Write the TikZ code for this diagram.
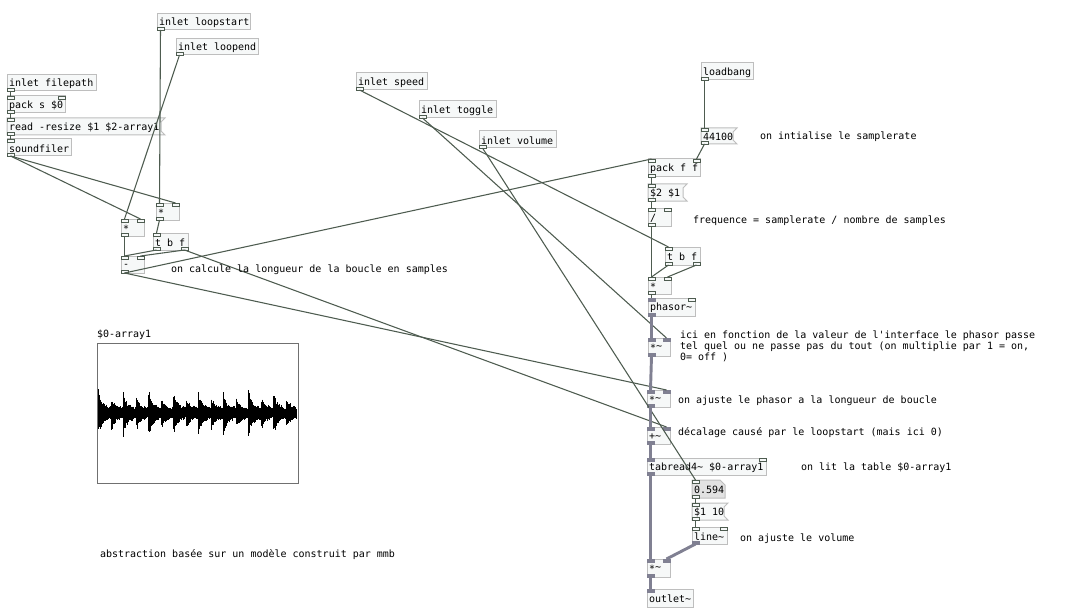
\documentclass[tikz,border=0pt]{standalone}
\usepackage{fontspec}
\newfontfamily\pdmono{DejaVu Sans Mono}
\usetikzlibrary{calc}
\definecolor{boxline}{RGB}{190,190,190}
\definecolor{boxfill}{RGB}{246,248,248}
\definecolor{ctl}{RGB}{78,92,80}
\definecolor{sig}{RGB}{128,128,146}
\definecolor{numfill}{RGB}{226,226,226}
\definecolor{arrline}{RGB}{112,112,112}
\newcommand\tl{\textasciitilde}
\newcommand\pdstar{\raisebox{-1.6pt}{*}}
\tikzset{
 pdbox/.style={draw=boxline, fill=boxfill, line width=0.75pt, inner sep=0pt, outer sep=0pt, anchor=north west},
 pdtxt/.style={inner sep=0pt, outer sep=0pt, anchor=west, font=\pdmono\fontsize{7.5}{8.25}\selectfont, text=black},
 ctab/.style={draw=ctl, fill=boxfill, line width=0.6pt},
 stab/.style={fill=sig, draw=sig, line width=0.3pt},
 cwire/.style={draw=ctl, line width=0.8pt},
 swire/.style={draw=sig, line width=2.2pt},
}
% object box
\newcommand\pdobj[6]{%
  \node[pdbox, minimum width=#4*0.75pt, minimum height=#5*0.75pt] (#1) at (#2,#3) {};
  \node[pdtxt] (#1-t) at ($(#1.west)+(2,1)$) {#6};}
% message box
\newcommand\pdmsg[6]{%
  \node[pdbox, draw=none, fill=none, minimum width=#4*0.75pt, minimum height=#5*0.75pt] (#1) at (#2,#3) {};
  \draw[draw=boxline, fill=boxfill, line width=0.75pt] (#1.north west) -- ++(#4+4,0) -- ++(-4,4) -- ++(0,#5-8) -- ++(4,4) -- (#1.south west) -- cycle;
  \node[pdtxt] (#1-t) at ($(#1.west)+(2,1)$) {#6};}
% number box
\newcommand\pdnum[6]{%
  \node[pdbox, draw=none, fill=none, minimum width=#4*0.75pt, minimum height=#5*0.75pt] (#1) at (#2,#3) {};
  \draw[draw=boxline, fill=numfill, line width=0.75pt] (#1.north west) -- ++(#4-5,0) -- ++(5,5) -- (#1.south east) -- (#1.south west) -- cycle;
  \node[pdtxt] (#1-t) at ($(#1.west)+(2,1)$) {#6};}
% inlets / outlets
\newcommand\iL[2]{\draw[#2] (#1.north west) rectangle ++(7,3); \coordinate (#1-i0) at ($(#1.north west)+(3.5,0)$);}
\newcommand\iR[2]{\draw[#2] ($(#1.north east)+(-7,0)$) rectangle ++(7,3); \coordinate (#1-i1) at ($(#1.north east)+(-3.5,0)$);}
\newcommand\oL[2]{\draw[#2] ($(#1.south west)+(0,-3)$) rectangle ++(7,3); \coordinate (#1-o0) at ($(#1.south west)+(3.5,0)$);}
\newcommand\oR[2]{\draw[#2] ($(#1.south east)+(-7,-3)$) rectangle ++(7,3); \coordinate (#1-o1) at ($(#1.south east)+(-3.5,0)$);}
\begin{document}
\begin{tikzpicture}[x=0.75pt,y=-0.75pt]
\fill[white] (0,0) rectangle (1083,610);
\useasboundingbox (0,0) rectangle (1083,610);

% ---------- left column ----------
\pdobj{inFP}{7}{75}{89}{16}{inlet filepath}
\pdobj{packS}{7}{96}{58}{17}{pack s \$0}
\pdmsg{readM}{7}{118}{154}{17}{read -resize \$1 \$2-array1}
\pdobj{sfil}{7}{139}{64}{17}{soundfiler}
\pdobj{inLS}{157}{14}{93}{16}{inlet loopstart}
\pdobj{inLE}{176}{39}{82}{16}{inlet loopend}
\pdobj{mulR}{156}{203}{23}{17}{\pdstar}
\pdobj{mulL}{121}{219}{23}{17}{\pdstar}
\pdobj{tbfA}{153}{233}{35}{17}{t b f}
\pdobj{sub}{121}{256}{23}{17}{-}

% ---------- middle inlets ----------
\pdobj{inSp}{356}{73}{71}{17}{inlet speed}
\pdobj{inTg}{419}{101}{77}{17}{inlet toggle}
\pdobj{inVl}{479}{131}{77}{17}{inlet volume}

% ---------- right column ----------
\pdobj{lb}{701}{63}{52}{17}{loadbang}
\pdmsg{m44}{701}{128}{32}{16}{44100}
\pdobj{packF}{648}{159}{52}{18}{pack f f}
\pdmsg{swp}{648}{184}{35}{17}{\$2 \$1}
\pdobj{dv}{648}{208}{23}{18}{/}
\pdobj{tbfB}{665}{247}{35}{18}{t b f}
\pdobj{mul}{648}{277}{23}{17}{\pdstar}
\pdobj{phs}{648}{298}{47}{18}{phasor\tl}
\pdobj{ms1}{648}{338}{22}{18}{\pdstar\tl}
\pdobj{ms2}{647}{390}{23}{17}{\pdstar\tl}
\pdobj{add}{647}{427}{23}{17}{+\tl}
\pdobj{tab}{647}{458}{119}{17}{tabread4\tl{} \$0-array1}
\pdnum{num}{692}{480}{33}{18}{0.594}
\pdmsg{m110}{692}{503}{32}{17}{\$1 10}
\pdobj{lin}{692}{527}{35}{17}{line\tl}
\pdobj{ms3}{647}{559}{23}{18}{\pdstar\tl}
\pdobj{outS}{647}{589}{46}{18}{outlet\tl}

% ---------- inlets / outlets ----------
\oL{inFP}{ctab}
\iL{packS}{ctab}\iR{packS}{ctab}\oL{packS}{ctab}
\iL{readM}{ctab}\oL{readM}{ctab}
\iL{sfil}{ctab}\oL{sfil}{ctab}
\oL{inLS}{ctab}\oL{inLE}{ctab}
\iL{mulR}{ctab}\iR{mulR}{ctab}\oL{mulR}{ctab}
\iL{mulL}{ctab}\iR{mulL}{ctab}\oL{mulL}{ctab}
\iL{sub}{ctab}\iR{sub}{ctab}\oL{sub}{ctab}
\iL{tbfA}{ctab}\oL{tbfA}{ctab}\oR{tbfA}{ctab}
\oL{inSp}{ctab}\oL{inTg}{ctab}\oL{inVl}{ctab}\oL{lb}{ctab}
\iL{m44}{ctab}\oL{m44}{ctab}
\iL{packF}{ctab}\iR{packF}{ctab}\oL{packF}{ctab}
\iL{swp}{ctab}\oL{swp}{ctab}
\iL{dv}{ctab}\iR{dv}{ctab}\oL{dv}{ctab}
\iL{tbfB}{ctab}\oL{tbfB}{ctab}\oR{tbfB}{ctab}
\iL{mul}{ctab}\iR{mul}{ctab}\oL{mul}{ctab}
\iL{phs}{stab}\iR{phs}{ctab}\oL{phs}{stab}
\iL{ms1}{stab}\iR{ms1}{stab}\oL{ms1}{stab}
\iL{ms2}{stab}\iR{ms2}{stab}\oL{ms2}{stab}
\iL{add}{stab}\iR{add}{stab}\oL{add}{stab}
\iL{tab}{stab}\iR{tab}{ctab}\oL{tab}{stab}
\iL{num}{ctab}\oL{num}{ctab}
\iL{m110}{ctab}\oL{m110}{ctab}
\iL{lin}{ctab}\iR{lin}{ctab}\oL{lin}{stab}
\iL{ms3}{stab}\iR{ms3}{stab}\oL{ms3}{stab}
\iL{outS}{stab}

% ---------- control connections ----------
\draw[cwire] (inFP-o0) -- (packS-i0);
\draw[cwire] (packS-o0) -- (readM-i0);
\draw[cwire] (readM-o0) -- (sfil-i0);
\draw[cwire] (sfil-o0) -- (mulL-i1);
\draw[cwire] (sfil-o0) -- (mulR-i1);
\draw[cwire] (inLS-o0) -- (mulR-i0);
\draw[cwire] (inLE-o0) -- (mulL-i0);
\draw[cwire] (mulR-o0) -- (tbfA-i0);
\draw[cwire] (mulL-o0) -- (sub-i0);
\draw[cwire] (tbfA-o0) -- (sub-i0);
\draw[cwire] (tbfA-o1) -- (sub-i1);
\draw[cwire] (tbfA-o1) -- (add-i1);
\draw[cwire] (sub-o0) -- (ms2-i1);
\draw[cwire] (sub-o0) -- (packF-i0);
\draw[cwire] (lb-o0) -- (m44-i0);
\draw[cwire] (m44-o0) -- (packF-i1);
\draw[cwire] (packF-o0) -- (swp-i0);
\draw[cwire] (swp-o0) -- (dv-i0);
\draw[cwire] (dv-o0) -- (mul-i0);
\draw[cwire] (tbfB-o0) -- (mul-i0);
\draw[cwire] (tbfB-o1) -- (mul-i1);
\draw[cwire] (inSp-o0) -- (tbfB-i0);
\draw[cwire] (inTg-o0) -- (ms1-i1);
\draw[cwire] (inVl-o0) -- (num-i0);
\draw[cwire] (mul-o0) -- (phs-i0);
\draw[cwire] (num-o0) -- (m110-i0);
\draw[cwire] (m110-o0) -- (lin-i0);

% ---------- signal connections ----------
\draw[swire] (phs-o0) -- (ms1-i0);
\draw[swire] (ms1-o0) -- (ms2-i0);
\draw[swire] (ms2-o0) -- (add-i0);
\draw[swire] (add-o0) -- (tab-i0);
\draw[swire] (tab-o0) -- (ms3-i0);
\draw[swire] (ms3-o0) -- (outS-i0);
\draw[swire] (lin-o0) -- (ms3-i1);

% ---------- comments ----------
\node[pdtxt] (c1) at (171,270) {on calcule la longueur de la boucle en samples};
\node[pdtxt] (c2) at (760,137) {on intialise le samplerate};
\node[pdtxt] (c3) at (693,221) {frequence = samplerate / nombre de samples};
\node[pdtxt, anchor=north west, align=left] (c4) at (680,331) {ici en fonction de la valeur de l'interface le phasor passe\\tel quel ou ne passe pas du tout (on multiplie par 1 = on,\\0= off )};
\node[pdtxt] (c5) at (678,401) {on ajuste le phasor a la longueur de boucle};
\node[pdtxt] (c6) at (678,433) {décalage causé par le loopstart (mais ici 0)};
\node[pdtxt] (c7) at (801,468) {on lit la table \$0-array1};
\node[pdtxt] (c8) at (740,539) {on ajuste le volume};
\node[pdtxt] (c9) at (100,555) {abstraction basée sur un modèle construit par mmb};

% ---------- array ----------
\node[pdtxt] (arrl) at (97,335) {\$0-array1};
\node[draw=arrline, fill=white, line width=0.75pt, inner sep=0pt, outer sep=0pt, anchor=north west,
      minimum width=201*0.75pt, minimum height=140*0.75pt] (arr) at (97,343) {};
\pgfmathsetseed{5}
\foreach \wvI in {0,...,198}{
  \pgfmathsetmacro\wvD{mod(\wvI,12.5)}
  \pgfmathsetmacro\wvH{int(\wvI/12.5)}
  \pgfmathsetmacro\wvA{ifthenelse(mod(\wvH,4)==0,1,ifthenelse(mod(\wvH,2)==0,0.85,0.65))}
  \pgfmathsetmacro\wvE{exp(-\wvD/4)}
  \pgfmathsetmacro\wvU{3.5+2.5*rnd+20*\wvA*\wvE*(0.5+0.5*rnd)}
  \pgfmathsetmacro\wvL{3.5+2.5*rnd+23*\wvA*\wvE*(0.5+0.5*rnd)}
  \draw[black, line width=0.9pt] (98.5+\wvI,413-\wvU) -- (98.5+\wvI,413+\wvL);
}
\end{tikzpicture}
\end{document}
